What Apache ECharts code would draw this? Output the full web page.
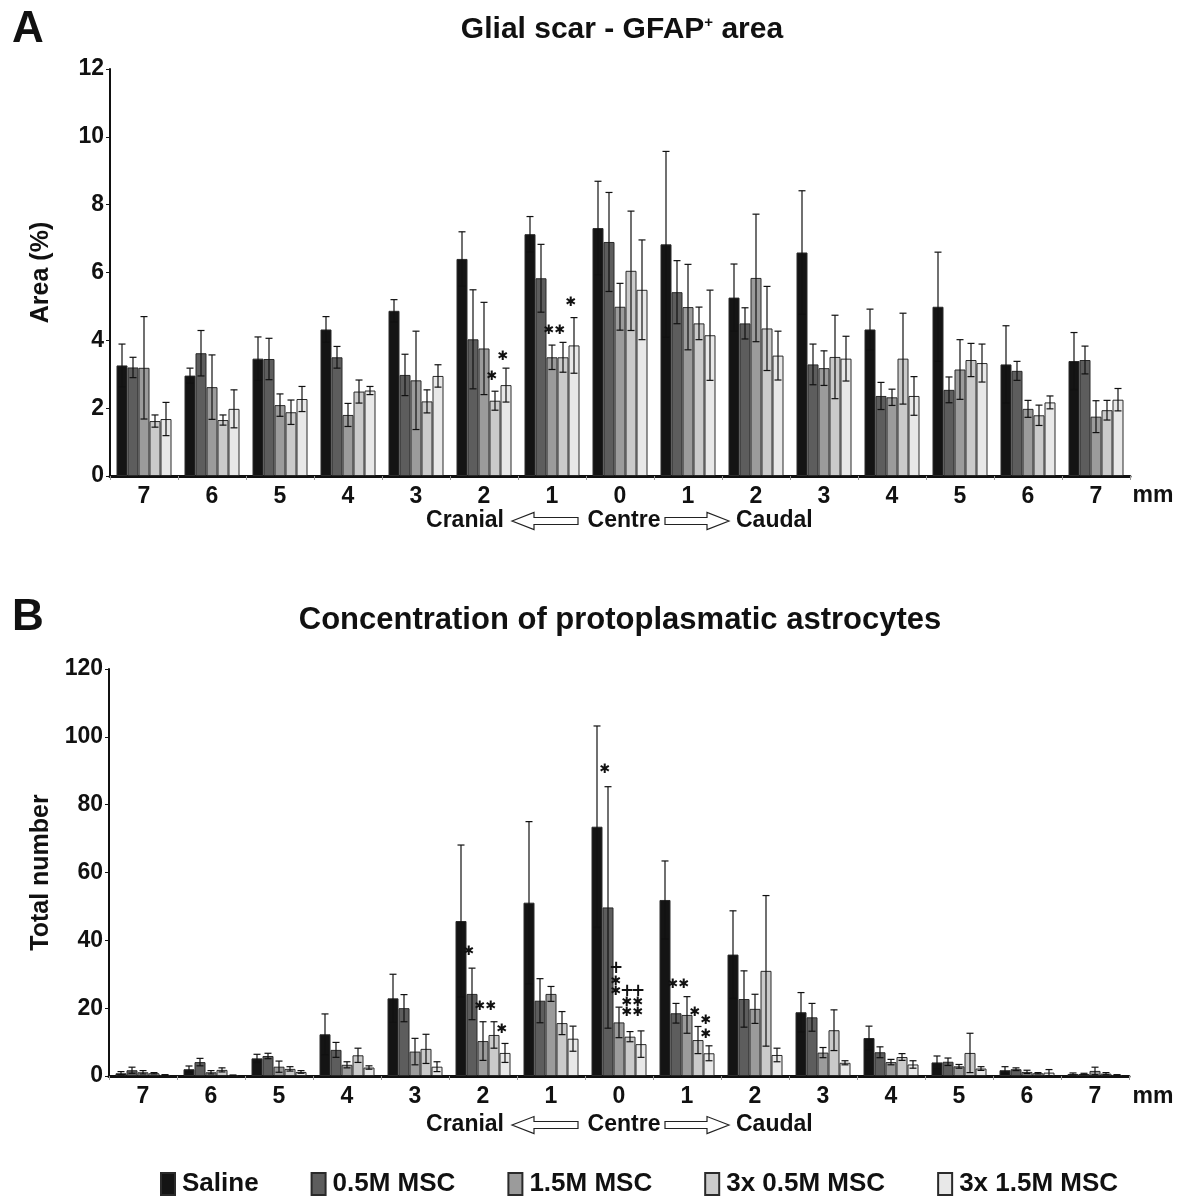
<!DOCTYPE html>
<html>
<head>
<meta charset="utf-8">
<script src="https://cdn.jsdelivr.net/npm/echarts@6/dist/echarts.min.js"></script>
<style>
  html, body { margin: 0; padding: 0; background: #fff; }
  #main { width: 1189px; height: 1198px; }
</style>
</head>
<body>
<div id="main"></div>
<script>
// distance from lesion centre (mm), cranial -> caudal
const categories = ['7', '6', '5', '4', '3', '2', '1', '0', '1', '2', '3', '4', '5', '6', '7'];
const groups = ['Saline', '0.5M MSC', '1.5M MSC', '3x 0.5M MSC', '3x 1.5M MSC'];

// A: GFAP+ area (%), mean and SD
const gfapSaline = [3.26, 2.96, 3.46, 4.32, 4.87, 6.40, 7.13, 7.31, 6.83, 5.26, 6.59, 4.32, 4.99, 3.29, 3.39];
const gfapSalineSd = [0.63, 0.22, 0.64, 0.38, 0.33, 0.80, 0.52, 1.38, 2.74, 0.99, 1.82, 0.60, 1.61, 1.14, 0.84];
const gfap05 = [3.20, 3.62, 3.45, 3.50, 2.98, 4.03, 5.83, 6.90, 5.42, 4.50, 3.29, 2.36, 2.54, 3.10, 3.42];
const gfap05Sd = [0.30, 0.67, 0.61, 0.32, 0.61, 1.46, 1.00, 1.46, 0.93, 0.46, 0.60, 0.40, 0.38, 0.28, 0.41];
const gfap15 = [3.19, 2.62, 2.09, 1.80, 2.82, 3.76, 3.50, 4.99, 4.98, 5.84, 3.18, 2.32, 3.14, 1.98, 1.75];
const gfap15Sd = [1.51, 0.95, 0.33, 0.34, 1.45, 1.36, 0.36, 0.69, 1.26, 1.88, 0.51, 0.24, 0.88, 0.25, 0.47];
const gfap3x05 = [1.62, 1.65, 1.88, 2.49, 2.20, 2.22, 3.50, 6.05, 4.50, 4.35, 3.51, 3.46, 3.42, 1.79, 1.94];
const gfap3x05Sd = [0.18, 0.15, 0.36, 0.34, 0.34, 0.28, 0.44, 1.76, 0.48, 1.24, 1.23, 1.34, 0.49, 0.30, 0.29];
const gfap3x15 = [1.68, 1.98, 2.27, 2.52, 2.95, 2.68, 3.85, 5.49, 4.15, 3.55, 3.46, 2.36, 3.33, 2.17, 2.25];
const gfap3x15Sd = [0.49, 0.56, 0.37, 0.12, 0.33, 0.50, 0.82, 1.47, 1.33, 0.72, 0.66, 0.57, 0.56, 0.19, 0.33];

// B: protoplasmatic astrocytes (total number), mean and SD
const astroSaline = [0.8, 2.0, 5.2, 12.3, 22.9, 45.7, 51.1, 73.5, 51.9, 35.8, 18.8, 11.2, 4.0, 1.7, 0.6];
const astroSalineSd = [0.5, 0.95, 1.2, 6.0, 7.1, 22.4, 23.9, 29.7, 11.5, 12.9, 5.8, 3.5, 1.9, 1.05, 0.3];
const astro05 = [1.7, 4.1, 5.9, 7.7, 20.0, 24.2, 22.2, 49.7, 18.5, 22.7, 17.3, 7.0, 4.2, 2.0, 0.6];
const astro05Sd = [0.9, 1.1, 0.8, 2.2, 4.0, 7.6, 6.5, 35.6, 2.9, 8.3, 4.1, 1.6, 1.1, 0.4, 0.2];
const astro15 = [1.1, 1.1, 2.75, 3.3, 7.2, 10.3, 24.2, 15.8, 18.0, 19.8, 6.9, 4.1, 2.85, 1.2, 1.5];
const astro15Sd = [0.5, 0.5, 1.65, 0.9, 3.9, 5.7, 2.2, 4.5, 5.4, 4.3, 1.5, 0.8, 0.55, 0.5, 1.1];
const astro3x05 = [0.8, 1.8, 2.1, 6.1, 8.0, 12.1, 15.6, 11.6, 10.6, 31.0, 13.5, 5.6, 6.8, 0.8, 0.7];
const astro3x05Sd = [0.2, 0.6, 0.65, 2.1, 4.3, 3.9, 3.4, 1.5, 4.0, 22.2, 6.0, 1.0, 5.8, 0.2, 0.3];
const astro3x15 = [0.3, 0.2, 1.2, 2.5, 2.75, 6.8, 11.0, 9.4, 6.7, 6.2, 3.9, 3.4, 2.2, 1.0, 0.3];
const astro3x15Sd = [0.1, 0.1, 0.4, 0.5, 1.45, 2.8, 3.7, 3.9, 2.2, 2.0, 0.6, 1.1, 0.55, 0.9, 0.1];

// significance marks: [category index, group index, y value, symbol]
const gfapMarks = [
  [5, 3, 2.93, '*'], [5, 4, 3.52, '*'],
  [6, 2, 4.3, '*'], [6, 3, 4.3, '*'], [6, 4, 5.1, '*']
];
const astroMarks = [
  [5, 1, 36.7, '*'], [5, 2, 20.6, '*'], [5, 3, 20.6, '*'], [5, 4, 13.8, '*'],
  [7, 1, 90.3, '*'],
  [7, 2, 31.6, '+'], [7, 2, 27.7, '*'], [7, 2, 25.0, '*'],
  [7, 3, 24.8, '+'], [7, 3, 21.5, '*'], [7, 3, 18.6, '*'],
  [7, 4, 24.8, '+'], [7, 4, 21.5, '*'], [7, 4, 18.6, '*'],
  [8, 1, 26.8, '*'], [8, 2, 26.8, '*'], [8, 3, 18.6, '*'],
  [8, 4, 16.2, '*'], [8, 4, 12.1, '*']
];

const colors = ['#141414', '#5d5d5d', '#9b9b9b', '#cacaca', '#e8e8e8'];
const BAR_W = 11;
const FONT = '"Liberation Sans", Arial, sans-serif';

const chart = echarts.init(document.getElementById('main'));

function barSeries(axis, means) {
  return means.map((d, s) => ({
    name: groups[s],
    type: 'bar',
    xAxisIndex: axis,
    yAxisIndex: axis,
    barWidth: BAR_W,
    barGap: '0%',
    data: d,
    itemStyle: { color: colors[s], borderColor: '#2a2a2a', borderWidth: 1 },
    emphasis: { disabled: true }
  }));
}

function errorSeries(axis, means, sds) {
  const data = [];
  means.forEach((arr, s) => arr.forEach((v, i) => data.push([i, v, sds[s][i], s])));
  return {
    type: 'custom',
    xAxisIndex: axis,
    yAxisIndex: axis,
    z: 5,
    silent: true,
    encode: { x: 0, y: 1 },
    data: data,
    renderItem: function (params, api) {
      const i = api.value(0), m = api.value(1), sd = api.value(2), s = api.value(3);
      const top = api.coord([i, m + sd]);
      const bot = api.coord([i, Math.max(m - sd, 0)]);
      const x = top[0] + (s - 2) * BAR_W;
      const st = { stroke: '#111', lineWidth: 1.2 };
      return {
        type: 'group',
        children: [
          { type: 'line', shape: { x1: x, y1: top[1], x2: x, y2: bot[1] }, style: st },
          { type: 'line', shape: { x1: x - 3.5, y1: top[1], x2: x + 3.5, y2: top[1] }, style: st },
          { type: 'line', shape: { x1: x - 3.5, y1: bot[1], x2: x + 3.5, y2: bot[1] }, style: st }
        ]
      };
    }
  };
}

function markSeries(axis, marks) {
  return {
    type: 'custom',
    xAxisIndex: axis,
    yAxisIndex: axis,
    z: 6,
    silent: true,
    encode: { x: 0, y: 1 },
    data: marks.map(m => [m[0], m[2], m[1]]),
    renderItem: function (params, api) {
      const p = api.coord([api.value(0), api.value(1)]);
      const sym = marks[params.dataIndex][3];
      return {
        type: 'text',
        x: p[0] + (api.value(2) - 2) * BAR_W - 3,
        y: p[1],
        style: {
          text: sym === '*' ? '\u2731' : '+',
          fill: '#111',
          fontSize: sym === '*' ? 13 : 17,
          fontWeight: 'bold',
          fontFamily: '"DejaVu Sans", sans-serif',
          align: 'center',
          verticalAlign: 'middle'
        }
      };
    }
  };
}

function xAxisOpt(grid) {
  return {
    type: 'category',
    gridIndex: grid,
    data: categories,
    axisLine: { lineStyle: { color: '#111', width: 3 } },
    axisTick: { show: true, length: 4, lineStyle: { color: '#999' } },
    axisLabel: { color: '#111', fontSize: 23, fontWeight: 'bold', fontFamily: FONT, margin: 9, interval: 0 }
  };
}

function yAxisOpt(grid, max, step, name, gap) {
  return {
    type: 'value',
    gridIndex: grid,
    min: 0,
    max: max,
    interval: step,
    name: name,
    nameLocation: 'middle',
    nameGap: gap,
    nameTextStyle: { color: '#111', fontSize: 25, fontWeight: 'bold', fontFamily: FONT },
    splitLine: { show: false },
    axisLine: { show: true, lineStyle: { color: '#111', width: 2 } },
    axisTick: { show: true, length: 4, lineStyle: { color: '#111' } },
    axisLabel: { color: '#111', fontSize: 23, fontWeight: 'bold', fontFamily: FONT, margin: 6 }
  };
}

function txt(x, y, text, size, align) {
  return {
    type: 'text', x: x, y: y,
    style: {
      text: text, fill: '#111', fontSize: size, fontWeight: 'bold', fontFamily: FONT,
      align: align || 'center', verticalAlign: 'middle'
    }
  };
}

// hollow arrows under the x axis
function arrow(x0, x1, y) {
  const dir = x1 > x0 ? 1 : -1;
  const head = x1 - dir * 22;
  return {
    type: 'polygon',
    shape: {
      points: [[x1, y], [head, y - 8.5], [head, y - 3.5], [x0, y - 3.5], [x0, y + 3.5], [head, y + 3.5], [head, y + 8.5]]
    },
    style: { fill: '#fff', stroke: '#222', lineWidth: 1.2 }
  };
}

function directionRow(y) {
  return [
    txt(504, y, 'Cranial', 23, 'right'),
    arrow(578, 512, y),
    txt(624, y, 'Centre', 23),
    arrow(665, 729, y),
    txt(736, y, 'Caudal', 23, 'left')
  ];
}

const gfapMeans = [gfapSaline, gfap05, gfap15, gfap3x05, gfap3x15];
const gfapSds = [gfapSalineSd, gfap05Sd, gfap15Sd, gfap3x05Sd, gfap3x15Sd];
const astroMeans = [astroSaline, astro05, astro15, astro3x05, astro3x15];
const astroSds = [astroSalineSd, astro05Sd, astro15Sd, astro3x05Sd, astro3x15Sd];

const option = {
  backgroundColor: '#fff',
  animation: false,
  grid: [
    { left: 110, top: 69, width: 1020, height: 407 },
    { left: 109, top: 669, width: 1020, height: 407 }
  ],
  xAxis: [xAxisOpt(0), xAxisOpt(1)],
  yAxis: [
    yAxisOpt(0, 12, 2, 'Area (%)', 56),
    yAxisOpt(1, 120, 20, 'Total number', 53)
  ],
  legend: {
    data: groups,
    left: 155,
    top: 1166,
    icon: 'rect',
    itemWidth: 14,
    itemHeight: 22,
    itemGap: 52,
    textStyle: { color: '#111', fontSize: 26, fontWeight: 'bold', fontFamily: FONT, padding: [0, 0, 0, 2] }
  },
  graphic: [
    txt(28, 30, 'A', 44),
    txt(28, 618, 'B', 44),
    {
      type: 'text', x: 622, y: 30,
      style: {
        text: '{a|Glial scar - GFAP}{s|+}{a| area}',
        align: 'center', verticalAlign: 'middle',
        rich: {
          a: { fill: '#111', fontSize: 30, fontWeight: 'bold', fontFamily: FONT },
          s: { fill: '#111', fontSize: 15, fontWeight: 'bold', fontFamily: FONT, verticalAlign: 'top', padding: [0, 0, 12, 0] }
        }
      }
    },
    txt(620, 620, 'Concentration of protoplasmatic astrocytes', 31),
    txt(1153, 496, 'mm', 23),
    txt(1153, 1097, 'mm', 23)
  ].concat(directionRow(521), directionRow(1125)),
  series: [].concat(
    barSeries(0, gfapMeans),
    barSeries(1, astroMeans),
    [errorSeries(0, gfapMeans, gfapSds), errorSeries(1, astroMeans, astroSds)],
    [markSeries(0, gfapMarks), markSeries(1, astroMarks)]
  )
};

chart.setOption(option);
</script>
</body>
</html>
